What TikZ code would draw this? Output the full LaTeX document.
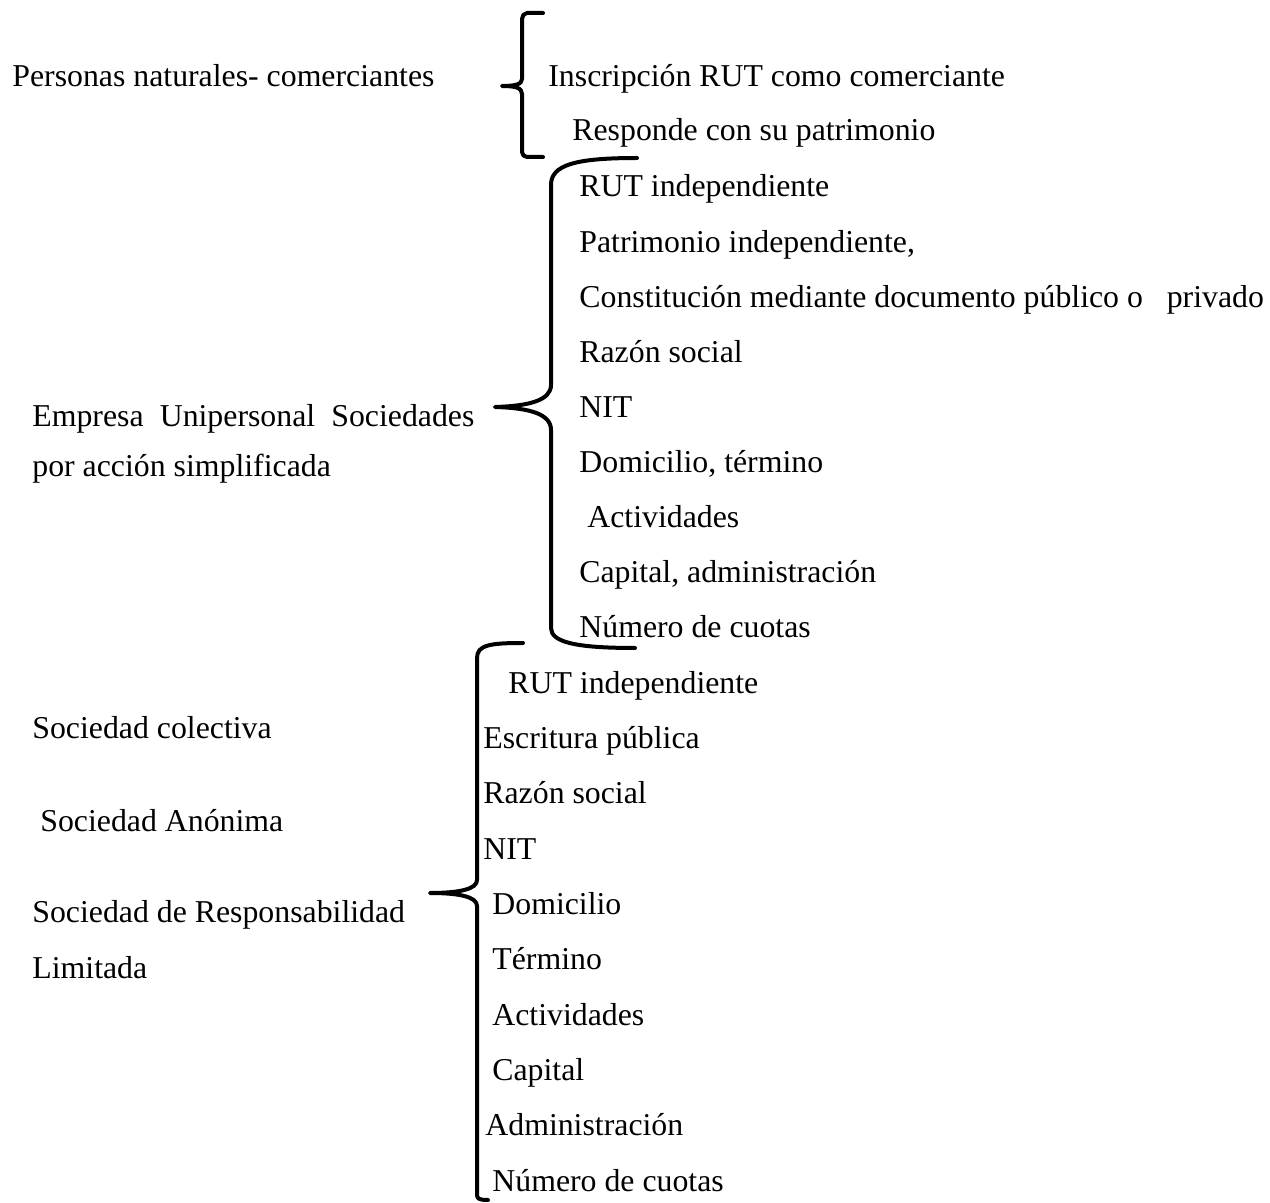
\documentclass[tikz,border=0pt]{standalone}
\usepackage{fontspec}
\setmainfont{Liberation Serif}
\usetikzlibrary{positioning}

\tikzset{
  item/.style={anchor=base west, inner sep=0pt, font=\fontsize{15.9}{19}\selectfont},
  bracepen/.style={line width=2pt, line cap=round, line join=round}
}

\begin{document}
\begin{tikzpicture}[x=0.5pt, y=-0.5pt]
  \useasboundingbox (0,0) rectangle (1270,1203);
  % Parameters
  \pgfmathsetmacro{\step}{55.1}

  % Personas naturales
  \node[item] (pn) at (12,87) {Personas naturales- comerciantes};
  \node[item] (pn1) at (548,87) {Inscripción RUT como comerciante};
  \node[item] (pn2) at (572,141) {Responde con su patrimonio};

  % Brace 1
  \coordinate (b1tip) at (502,86);
  \draw[bracepen] (543,13) -- (527,13) to[out=180,in=90] (522,19) -- (522,79)
    .. controls (522,84) and (516,86) .. (b1tip)
    .. controls (516,86) and (522,88) .. (522,94) -- (522,152)
    to[out=-90,in=180] (527,157) -- (543,157);

  % Empresa Unipersonal / SAS
  \node[item] (eu1) at (32,427) {\makebox[221pt][s]{Empresa Unipersonal Sociedades}};
  \node[item] (eu2) at (32,477) {por acción simplificada};

  \foreach \txt [count=\i] in {RUT independiente, {Patrimonio independiente,},
      Constitución mediante documento público o \ \ privado, Razón social, NIT,
      {Domicilio, término}, \ Actividades, {Capital, administración}, Número de cuotas}
    \node[item] (eu\i r) at (579,{197+(\i-1)*\step}) {\txt};

  % Brace 2
  \coordinate (b2tip) at (495,407);
  \draw[bracepen] (637,158) .. controls (575,158) and (551,165) .. (551,185) -- (551,385)
    .. controls (551,400) and (530,406) .. (b2tip)
    .. controls (530,408) and (551,414) .. (551,430) -- (551,628)
    .. controls (551,642) and (575,648) .. (635,648);

  % Sociedades
  \node[item] (sc) at (32,738) {Sociedad colectiva};
  \node[item] (sa) at (40,831) {Sociedad Anónima};
  \node[item] (srl1) at (32,922) {Sociedad de Responsabilidad};
  \node[item] (srl2) at (32,978) {Limitada};

  \node[item] (s1) at (508,693) {RUT independiente};
  \node[item] (s2) at (483,748) {Escritura pública};
  \node[item] (s3) at (483,803) {Razón social};
  \node[item] (s4) at (483,859) {NIT};
  \node[item] (s5) at (492,914) {Domicilio};
  \node[item] (s6) at (492,969) {Término};
  \node[item] (s7) at (492,1025) {Actividades};
  \node[item] (s8) at (492,1080) {Capital};
  \node[item] (s9) at (485,1135) {Administración};
  \node[item] (s10) at (492,1191) {Número de cuotas};

  % Brace 3
  \coordinate (b3tip) at (430,893);
  \draw[bracepen] (523,643) .. controls (490,643) and (477,645) .. (477,658) -- (477,880)
    .. controls (477,889) and (460,893) .. (b3tip)
    .. controls (460,893) and (477,897) .. (477,906) -- (477,1195)
    .. controls (477,1199) and (480,1200) .. (488,1200);
\end{tikzpicture}
\end{document}
